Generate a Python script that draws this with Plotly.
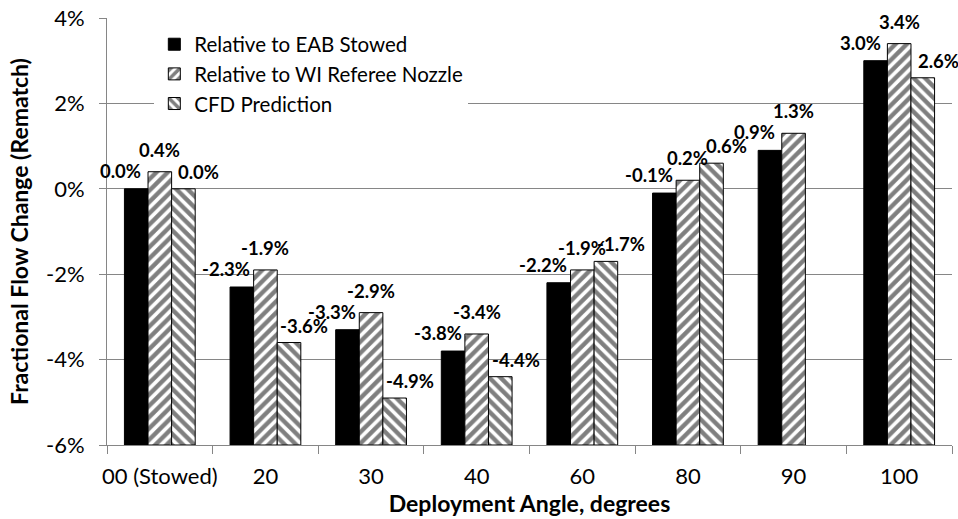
import plotly.graph_objects as go

# Données (en %)
categories = ["00 (Stowed)", "20", "30", "40", "60", "80", "90", "100"]
eab_stowed = [0.0, -2.3, -3.3, -3.8, -2.2, -0.1, 0.9, 3.0]
wi_referee = [0.4, -1.9, -2.9, -3.4, -1.9, 0.2, 1.3, 3.4]
cfd_prediction = [0.0, -3.6, -4.9, -4.4, -1.7, 0.6, None, 2.6]
series_names = ["Relative to EAB Stowed", "Relative to WI Referee Nozzle", "CFD Prediction"]
y_ticks = [-6, -4, -2, 0, 2, 4]

FONT = "Lato"
AXIS_GREY = "#868686"
BASE = -6  # les barres partent du bas de l'axe, comme dans Excel

series = [eab_stowed, wi_referee, cfd_prediction]
patterns = [None, "/", "\\"]
# décalage des étiquettes (px) pour éviter les chevauchements, comme dans l'original
label_xshift = [-39, 0, 39]
label_yshift = [5, 9, 4]

fig = go.Figure()

for name, values, shape in zip(series_names, series, patterns):
    marker = dict(color="black", line=dict(color="black", width=1))
    if shape:
        marker = dict(
            color="white",
            line=dict(color="black", width=1),
            pattern=dict(shape=shape, fgcolor="black", bgcolor="white", size=8, solidity=0.55),
        )
    fig.add_trace(go.Bar(
        x=categories,
        y=[None if v is None else v - BASE for v in values],
        base=BASE,
        name=name,
        marker=marker,
        hoverinfo="skip",
    ))

# Étiquettes de valeur au-dessus des barres (x = indice de catégorie)
for values, dx, dy in zip(series, label_xshift, label_yshift):
    for i, v in enumerate(values):
        if v is None:
            continue
        fig.add_annotation(
            x=i, y=v, xref="x", yref="y",
            text=f"{v:.1f}%",
            showarrow=False,
            xshift=dx, yshift=dy,
            yanchor="bottom",
            font=dict(family=FONT, size=18.5, color="black", weight="bold"),
        )

fig.update_layout(
    width=958,
    height=519,
    margin=dict(l=107, r=6, t=18, b=74),
    barmode="group",
    bargap=0.33,
    bargroupgap=0,
    plot_bgcolor="white",
    paper_bgcolor="white",
    font=dict(family=FONT, color="black"),
    showlegend=True,
    legend=dict(
        x=0.056, y=0.985, xanchor="left", yanchor="top",
        bgcolor="white",
        font=dict(family=FONT, size=20.5, color="black"),
        itemwidth=30,
        tracegroupgap=0,
    ),
    xaxis=dict(
        type="category",
        range=[-0.5, len(categories) - 0.5],
        automargin=False,
        tickangle=0,
        showline=True, linecolor=AXIS_GREY, linewidth=1,
        ticks="outside", tickson="boundaries", ticklen=8, tickcolor=AXIS_GREY,
        tickfont=dict(family=FONT, size=22, color="black"),
        ticklabelstandoff=12,
        title=dict(text="<b>Deployment Angle, degrees</b>", font=dict(family=FONT, size=23), standoff=4),
        showgrid=False,
    ),
    yaxis=dict(
        range=[-6, 4],
        automargin=False,
        tickvals=y_ticks,
        ticktext=[f"{t}%" for t in y_ticks],
        showline=True, linecolor=AXIS_GREY, linewidth=1,
        ticks="outside", ticklen=7, tickcolor=AXIS_GREY,
        showgrid=True, gridcolor=AXIS_GREY, gridwidth=1,
        zeroline=False,
        tickfont=dict(family=FONT, size=22, color="black"),
        ticklabelstandoff=10,
        title=dict(text="<b>Fractional Flow Change (Rematch)</b>", font=dict(family=FONT, size=23), standoff=10),
    ),
)

fig.write_html(
    "out.html",
    config={"displayModeBar": False},
    post_script="document.body.style.margin='0';",
)
